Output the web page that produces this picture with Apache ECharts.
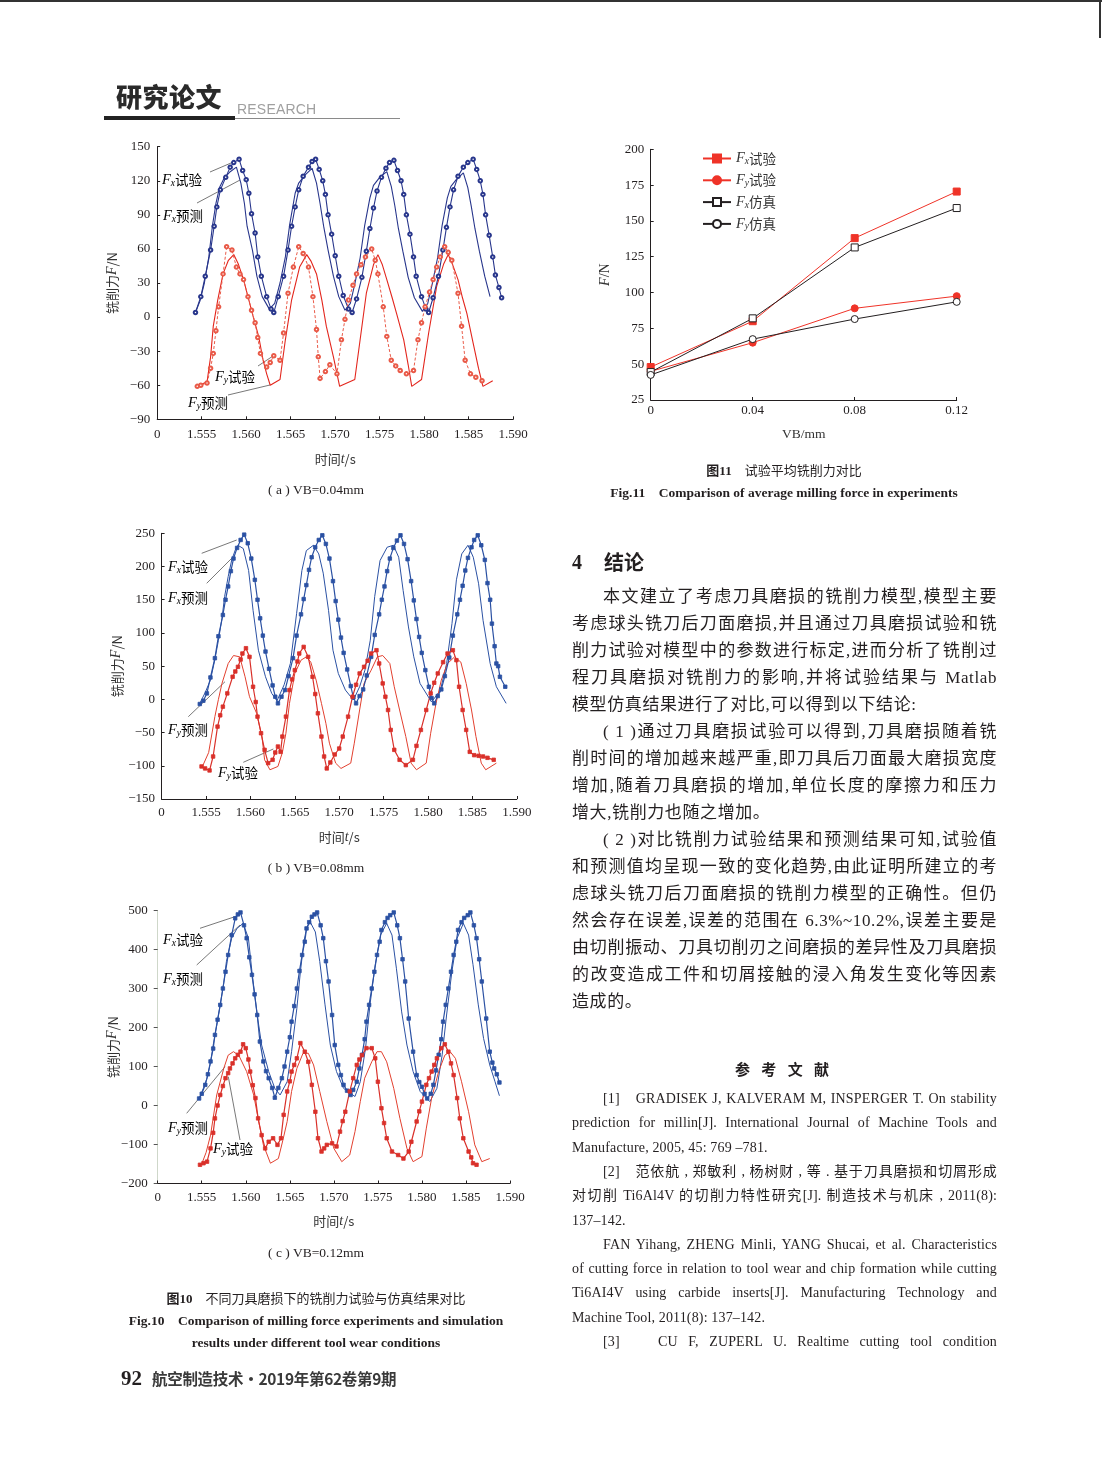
<!DOCTYPE html>
<html><head><meta charset="utf-8">
<script src="https://cdn.jsdelivr.net/npm/echarts@6/dist/echarts.min.js"></script>
<style>
html,body{margin:0;padding:0;background:#fff;}
#page{position:relative;width:1102px;height:1484px;overflow:hidden;background:#fff;font-family:"Liberation Serif","Noto Sans CJK SC",serif;color:#231f20;}
#chart{position:absolute;left:0;top:0;width:1102px;height:1484px;}
.t{position:absolute;white-space:nowrap;}
.ln{position:absolute;white-space:nowrap;}
.j{text-align:justify;text-align-last:justify;}
.c{text-align:center;}
</style>
</head><body>
<div id="page">
<div id="chart"></div>
</div>
<script>
// ---------- Fig.10 (a) VB=0.04mm : [time s, force N] ----------
const aFxExp=[[1.5543,4],[1.5549,18],[1.5554,36],[1.5560,59],[1.5564,80],[1.5567,97],[1.5571,112],[1.5577,123],[1.5582,132],[1.5586,136],[1.5592,139],
[1.5596,129],[1.5600,121],[1.5603,109],[1.5606,91],[1.5610,74],[1.5613,53],[1.5617,36],[1.5623,18],[1.5628,7],[1.5631,4],
[1.5636,18],[1.5642,36],[1.5647,59],[1.5651,80],[1.5655,97],[1.5659,112],[1.5664,124],[1.5670,132],[1.5674,137],[1.5678,139],
[1.5682,130],[1.5686,120],[1.5689,108],[1.5692,90],[1.5696,73],[1.5700,54],[1.5704,36],[1.5709,19],[1.5715,7],[1.5719,4],
[1.5724,16],[1.5730,35],[1.5735,58],[1.5739,78],[1.5743,96],[1.5747,111],[1.5752,123],[1.5757,131],[1.5761,136],[1.5766,138],
[1.5770,129],[1.5774,120],[1.5777,108],[1.5780,90],[1.5784,73],[1.5788,53],[1.5791,36],[1.5797,18],[1.5802,7],[1.5805,4],
[1.5810,17],[1.5816,36],[1.5821,59],[1.5825,79],[1.5829,97],[1.5833,112],[1.5838,124],[1.5844,132],[1.5849,136],[1.5855,139],
[1.5859,130],[1.5863,120],[1.5866,108],[1.5869,90],[1.5873,72],[1.5877,53],[1.5880,37],[1.5884,26],[1.5887,17]];
const aFxPre=[[1.5543,4],[1.5548,14],[1.5553,30],[1.5558,53],[1.5562,80],[1.5566,100],[1.5570,114],[1.5575,122],[1.5582,128],[1.5589,132],
[1.5594,118],[1.5598,100],[1.5601,80],[1.5607,59],[1.5612,36],[1.5618,18],[1.5626,7],
[1.5632,12],[1.5638,30],[1.5644,53],[1.5649,82],[1.5655,109],[1.5659,118],[1.5666,125],[1.5674,131],
[1.5679,118],[1.5683,100],[1.5687,80],[1.5692,59],[1.5698,36],[1.5704,18],[1.5711,6],
[1.5717,12],[1.5722,29],[1.5728,52],[1.5733,80],[1.5739,105],[1.5743,116],[1.5750,123],[1.5758,128],
[1.5763,115],[1.5767,98],[1.5771,78],[1.5776,58],[1.5782,35],[1.5789,17],[1.5798,5],
[1.5804,12],[1.5809,29],[1.5815,52],[1.5820,80],[1.5826,105],[1.5830,115],[1.5836,121],[1.5844,127],
[1.5849,114],[1.5853,97],[1.5857,78],[1.5862,58],[1.5868,36],[1.5874,18]];
const aFyExp=[[1.5545,-61],[1.5549,-60],[1.5556,-58],[1.5560,-45],[1.5563,-32],[1.5566,-12],[1.5569,9],[1.5574,38],[1.5578,62],[1.5584,59],[1.5589,44],[1.5593,38],[1.5597,33],[1.5602,18],[1.5606,6],[1.5610,-5],[1.5613,-18],[1.5616,-32],[1.5623,-44],[1.5627,-40],[1.5631,-34],[1.5638,-38],
[1.5642,-14],[1.5647,21],[1.5653,44],[1.5659,62],[1.5664,56],[1.5670,44],[1.5675,18],[1.5679,-11],[1.5681,-35],[1.5683,-54],[1.5689,-48],[1.5694,-42],[1.5702,-50],
[1.5707,-20],[1.5711,-2],[1.5715,15],[1.5720,28],[1.5724,38],[1.5729,46],[1.5734,53],[1.5741,60],[1.5745,50],[1.5748,38],[1.5754,9],[1.5758,-17],[1.5763,-38],[1.5768,-43],[1.5773,-47],[1.5780,-50],[1.5788,-47],
[1.5793,-20],[1.5797,-5],[1.5801,9],[1.5806,22],[1.5810,33],[1.5814,44],[1.5818,53],[1.5823,62],[1.5827,57],[1.5831,50],[1.5838,21],[1.5842,-8],[1.5846,-38],[1.5852,-50],[1.5858,-53],[1.5865,-56]];
const aFyPre=[[1.5545,-61],[1.5556,-57],[1.5560,-35],[1.5563,-8],[1.5568,15],[1.5574,38],[1.5580,50],[1.5586,55],[1.5591,47],[1.5597,33],[1.5603,15],[1.5608,0],[1.5614,-17],[1.5619,-38],[1.5623,-50],[1.5627,-60],
[1.5638,-55],[1.5644,-20],[1.5651,15],[1.5660,44],[1.5668,55],[1.5673,49],[1.5679,38],[1.5685,15],[1.5690,-8],[1.5698,-35],[1.5705,-61],
[1.5722,-55],[1.5728,-20],[1.5735,21],[1.5743,46],[1.5748,55],[1.5753,46],[1.5758,33],[1.5764,17],[1.5769,3],[1.5777,-20],[1.5782,-42],[1.5786,-61],
[1.5797,-55],[1.5805,-14],[1.5814,27],[1.5822,47],[1.5827,55],[1.5832,46],[1.5838,33],[1.5843,17],[1.5848,3],[1.5855,-23],[1.5861,-45],[1.5866,-61],[1.5877,-56]];

// ---------- Fig.10 (b) VB=0.08mm ----------
const bFxExp=[[1.5543,-7],[1.5547,-2],[1.5551,9],[1.5555,33],[1.5560,62],[1.5564,95],[1.5569,127],[1.5572,150],[1.5575,170],[1.5578,193],[1.5581,212],[1.5585,228],[1.5589,240],[1.5593,248],
[1.5597,235],[1.5601,212],[1.5605,180],[1.5608,150],[1.5611,122],[1.5614,96],[1.5617,72],[1.5621,46],[1.5625,21],[1.5628,4],[1.5631,-6],
[1.5635,4],[1.5639,14],[1.5643,35],[1.5648,62],[1.5652,96],[1.5657,128],[1.5660,151],[1.5663,172],[1.5666,195],[1.5669,214],[1.5673,229],[1.5677,240],[1.5681,247],
[1.5685,234],[1.5689,212],[1.5693,178],[1.5696,148],[1.5699,120],[1.5702,93],[1.5705,70],[1.5709,45],[1.5713,20],[1.5716,3],[1.5719,-6],
[1.5723,5],[1.5727,15],[1.5731,36],[1.5736,64],[1.5740,97],[1.5745,128],[1.5748,150],[1.5751,170],[1.5754,193],[1.5757,212],[1.5761,228],[1.5765,239],[1.5769,247],
[1.5773,234],[1.5777,211],[1.5781,178],[1.5784,149],[1.5787,121],[1.5790,94],[1.5793,70],[1.5797,44],[1.5801,19],[1.5804,2],[1.5807,-6],
[1.5811,5],[1.5815,15],[1.5819,35],[1.5824,63],[1.5828,96],[1.5833,128],[1.5836,150],[1.5839,171],[1.5842,194],[1.5845,213],[1.5849,229],[1.5852,240],[1.5856,247],
[1.5860,232],[1.5864,210],[1.5867,175],[1.5870,150],[1.5872,114],[1.5875,80],[1.5877,54],[1.5879,50],[1.5881,34],[1.5887,19]];
const bFxPre=[[1.5543,-6],[1.5549,10],[1.5555,29],[1.5560,60],[1.5564,89],[1.5568,122],[1.5571,155],[1.5575,185],[1.5579,210],[1.5583,225],[1.5586,232],[1.5592,227],[1.5598,194],[1.5603,134],[1.5609,74],[1.5617,34],[1.5624,9],[1.5630,-2],
[1.5638,22],[1.5645,54],[1.5652,129],[1.5658,194],[1.5663,224],[1.5671,232],[1.5677,219],[1.5682,190],[1.5688,134],[1.5693,74],[1.5699,39],[1.5707,14],[1.5716,-1],
[1.5723,19],[1.5729,44],[1.5735,89],[1.5740,155],[1.5746,209],[1.5754,229],[1.5761,232],[1.5767,214],[1.5772,164],[1.5778,109],[1.5784,64],[1.5791,24],[1.5804,-4],
[1.5814,14],[1.5821,54],[1.5827,114],[1.5832,180],[1.5838,219],[1.5845,232],[1.5851,214],[1.5857,174],[1.5862,119],[1.5870,54],[1.5877,19],[1.5888,-6]];
const bFyExp=[[1.5545,-101],[1.5549,-104],[1.5554,-107],[1.5558,-86],[1.5563,-41],[1.5566,-24],[1.5569,-11],[1.5574,9],[1.5580,34],[1.5583,42],[1.5586,49],[1.5589,60],[1.5591,69],[1.5595,77],[1.5599,64],[1.5603,19],[1.5606,-4],[1.5608,-26],[1.5612,-51],[1.5616,-76],[1.5620,-96],[1.5625,-91],[1.5628,-80],[1.5631,-71],[1.5634,-79],
[1.5636,-56],[1.5640,-26],[1.5644,14],[1.5647,30],[1.5650,44],[1.5653,57],[1.5655,69],[1.5660,79],[1.5665,64],[1.5670,34],[1.5673,8],[1.5676,-21],[1.5680,-56],[1.5683,-86],[1.5686,-104],[1.5690,-95],[1.5695,-83],[1.5700,-74],
[1.5704,-56],[1.5710,-26],[1.5715,4],[1.5719,22],[1.5723,39],[1.5728,49],[1.5732,58],[1.5736,69],[1.5742,74],[1.5745,54],[1.5749,24],[1.5752,4],[1.5755,-16],[1.5758,-46],[1.5762,-76],[1.5768,-91],[1.5775,-99],[1.5783,-91],[1.5787,-70],
[1.5792,-46],[1.5798,-16],[1.5803,9],[1.5807,25],[1.5811,39],[1.5817,56],[1.5822,69],[1.5828,74],[1.5832,59],[1.5835,19],[1.5839,-16],[1.5843,-46],[1.5847,-79],[1.5852,-84],[1.5857,-85],[1.5862,-86],[1.5867,-88],[1.5874,-91]];
const bFyPre=[[1.5546,-101],[1.5553,-80],[1.5560,-26],[1.5564,0],[1.5568,24],[1.5575,54],[1.5581,66],[1.5588,64],[1.5594,34],[1.5599,4],[1.5607,-21],[1.5613,-56],[1.5616,-91],[1.5622,-106],[1.5631,-101],
[1.5636,-80],[1.5640,-51],[1.5644,-6],[1.5650,39],[1.5657,59],[1.5663,64],[1.5668,56],[1.5674,29],[1.5680,-6],[1.5685,-36],[1.5689,-66],[1.5696,-96],[1.5702,-104],[1.5713,-96],
[1.5717,-66],[1.5723,-16],[1.5728,24],[1.5736,44],[1.5743,64],[1.5749,66],[1.5757,54],[1.5762,19],[1.5768,-16],[1.5775,-56],[1.5781,-96],[1.5787,-106],[1.5798,-96],
[1.5803,-51],[1.5809,-6],[1.5815,29],[1.5822,54],[1.5830,64],[1.5837,56],[1.5843,24],[1.5849,-16],[1.5854,-56],[1.5860,-96],[1.5865,-106],[1.5877,-96]];

// ---------- Fig.10 (c) VB=0.12mm ----------
const cFxExp=[[1.5547,18],[1.5550,30],[1.5554,53],[1.5557,80],[1.5560,113],[1.5563,146],[1.5565,181],[1.5568,220],[1.5571,258],[1.5574,300],[1.5577,343],[1.5580,386],[1.5584,437],[1.5588,480],[1.5591,490],[1.5594,495],
[1.5598,462],[1.5601,429],[1.5604,380],[1.5607,335],[1.5610,285],[1.5613,232],[1.5616,164],[1.5620,113],[1.5623,88],[1.5626,70],[1.5630,45],[1.5633,20],
[1.5637,45],[1.5641,70],[1.5644,100],[1.5647,138],[1.5650,175],[1.5652,215],[1.5655,255],[1.5658,300],[1.5661,345],[1.5664,386],[1.5667,420],[1.5669,454],[1.5672,470],[1.5675,484],[1.5678,490],[1.5681,495],
[1.5685,462],[1.5688,429],[1.5691,370],[1.5694,318],[1.5698,232],[1.5701,155],[1.5705,104],[1.5708,78],[1.5711,53],[1.5715,38],[1.5719,27],
[1.5722,40],[1.5726,61],[1.5729,95],[1.5732,130],[1.5735,170],[1.5737,215],[1.5740,258],[1.5743,300],[1.5746,343],[1.5749,386],[1.5752,420],[1.5754,450],[1.5758,470],[1.5761,481],[1.5764,488],[1.5768,495],
[1.5772,462],[1.5775,429],[1.5778,375],[1.5781,318],[1.5785,223],[1.5790,138],[1.5794,78],[1.5797,60],[1.5800,48],[1.5803,30],[1.5806,18],
[1.5810,30],[1.5813,53],[1.5816,90],[1.5819,130],[1.5822,170],[1.5824,215],[1.5827,258],[1.5830,300],[1.5833,343],[1.5836,386],[1.5839,420],[1.5841,450],[1.5845,470],[1.5848,481],[1.5852,488],[1.5855,495],
[1.5859,462],[1.5862,429],[1.5865,375],[1.5868,318],[1.5873,223],[1.5877,138],[1.5880,110],[1.5882,95],[1.5885,80],[1.5888,59]];
const cFxPre=[[1.5547,18],[1.5552,45],[1.5556,70],[1.5560,110],[1.5563,155],[1.5567,205],[1.5571,258],[1.5575,315],[1.5578,369],[1.5584,429],[1.5590,454],[1.5597,467],[1.5603,429],[1.5607,343],[1.5613,232],[1.5618,155],[1.5626,87],[1.5633,44],[1.5639,27],
[1.5647,61],[1.5652,138],[1.5658,249],[1.5662,343],[1.5666,420],[1.5669,454],[1.5673,471],[1.5679,445],[1.5684,369],[1.5690,258],[1.5696,155],[1.5703,87],[1.5711,44],[1.5724,23],
[1.5730,61],[1.5736,147],[1.5741,258],[1.5747,361],[1.5753,437],[1.5760,467],[1.5766,437],[1.5771,352],[1.5777,240],[1.5783,155],[1.5790,87],[1.5798,36],[1.5809,10],
[1.5817,44],[1.5823,130],[1.5828,232],[1.5834,343],[1.5840,429],[1.5847,467],[1.5853,437],[1.5858,361],[1.5864,258],[1.5870,172],[1.5877,104],[1.5883,61],[1.5888,25]];
const cFyExp=[[1.5548,-152],[1.5552,-148],[1.5556,-144],[1.5560,-110],[1.5563,-70],[1.5565,-33],[1.5568,0],[1.5571,27],[1.5574,50],[1.5577,70],[1.5580,83],[1.5582,95],[1.5585,108],[1.5588,121],[1.5591,130],[1.5594,138],[1.5597,157],
[1.5600,147],[1.5603,118],[1.5605,87],[1.5608,52],[1.5611,19],[1.5614,-33],[1.5618,-76],[1.5622,-110],[1.5626,-93],[1.5631,-84],[1.5636,-101],[1.5640,-84],
[1.5643,-24],[1.5647,36],[1.5650,62],[1.5652,87],[1.5655,104],[1.5658,121],[1.5662,160],[1.5667,138],[1.5671,112],[1.5675,53],[1.5679,-16],[1.5682,-84],[1.5686,-118],[1.5689,-110],[1.5692,-101],[1.5698,-97],[1.5703,-105],
[1.5707,-67],[1.5710,-40],[1.5713,-16],[1.5718,36],[1.5722,70],[1.5726,104],[1.5729,118],[1.5732,129],[1.5737,147],[1.5743,147],[1.5747,121],[1.5750,61],[1.5754,-7],[1.5757,-45],[1.5760,-84],[1.5766,-118],[1.5773,-127],[1.5779,-136],[1.5785,-118],[1.5788,-93],
[1.5794,-41],[1.5797,-15],[1.5800,10],[1.5805,53],[1.5808,70],[1.5811,87],[1.5814,104],[1.5817,121],[1.5822,147],[1.5826,157],[1.5830,138],[1.5833,108],[1.5836,78],[1.5840,19],[1.5843,-33],[1.5847,-84],[1.5853,-118],[1.5856,-133],[1.5858,-148],[1.5862,-152]];
const cFyPre=[[1.5550,-150],[1.5555,-120],[1.5560,-76],[1.5567,27],[1.5575,95],[1.5580,129],[1.5586,138],[1.5592,129],[1.5601,87],[1.5609,27],[1.5614,-33],[1.5620,-101],[1.5628,-148],
[1.5637,-136],[1.5642,-90],[1.5647,-41],[1.5652,36],[1.5658,95],[1.5665,134],[1.5671,134],[1.5677,104],[1.5684,36],[1.5692,-41],[1.5700,-110],[1.5709,-144],
[1.5718,-127],[1.5724,-67],[1.5730,10],[1.5735,70],[1.5743,112],[1.5749,138],[1.5754,138],[1.5760,112],[1.5768,44],[1.5775,-33],[1.5783,-110],[1.5790,-144],
[1.5800,-131],[1.5805,-58],[1.5811,19],[1.5819,87],[1.5826,129],[1.5832,138],[1.5838,121],[1.5845,61],[1.5853,-16],[1.5860,-101],[1.5868,-144],[1.5877,-136]];

// ---------- Fig.11 average milling force ----------
const fig11VB=[0,0.04,0.08,0.12];
const fig11FxExp=[48,80,138,170.5];
const fig11FyExp=[45,65,89,97.5];
const fig11FxSim=[44.5,82,131.5,159];
const fig11FySim=[42.5,67.5,81.5,93.5];

// ---------- page text ----------
const bodyLines=[
['本文建立了考虑刀具磨损的铣削力模型,模型主要',1,1],
['考虑球头铣刀后刀面磨损,并且通过刀具磨损试验和铣',0,1],
['削力试验对模型中的参数进行标定,进而分析了铣削过',0,1],
['程刀具磨损对铣削力的影响,并将试验结果与 Matlab',0,1],
['模型仿真结果进行了对比,可以得到以下结论:',0,0],
['( 1 )通过刀具磨损试验可以得到,刀具磨损随着铣',1,1],
['削时间的增加越来越严重,即刀具后刀面最大磨损宽度',0,1],
['增加,随着刀具磨损的增加,单位长度的摩擦力和压力',0,1],
['增大,铣削力也随之增加。',0,0],
['( 2 )对比铣削力试验结果和预测结果可知,试验值',1,1],
['和预测值均呈现一致的变化趋势,由此证明所建立的考',0,1],
['虑球头铣刀后刀面磨损的铣削力模型的正确性。但仍',0,1],
['然会存在误差,误差的范围在 6.3%~10.2%,误差主要是',0,1],
['由切削振动、刀具切削刃之间磨损的差异性及刀具磨损',0,1],
['的改变造成工件和切屑接触的浸入角发生变化等因素',0,1],
['造成的。',0,0]];
const refLines=[
['[1]\u3000GRADISEK J, KALVERAM M, INSPERGER T. On stability',1,1],
['prediction for millin[J]. International Journal of Machine Tools and',0,1],
['Manufacture, 2005, 45: 769 –781.',0,0],
['[2]\u3000范依航 , 郑敏利 , 杨树财 , 等 . 基于刀具磨损和切屑形成',1,1],
['对切削 Ti6Al4V 的切削力特性研究[J]. 制造技术与机床 , 2011(8):',0,1],
['137–142.',0,0],
['FAN Yihang, ZHENG Minli, YANG Shucai, et al. Characteristics',1,1],
['of cutting force in relation to tool wear and chip formation while cutting',0,1],
['Ti6AI4V using carbide inserts[J]. Manufacturing Technology and',0,1],
['Machine Tool, 2011(8): 137–142.',0,0],
['[3]\u3000 CU F, ZUPERL U. Realtime cutting tool condition',1,1]];

const page=document.getElementById('page');
function addDiv(html,css,cls){const d=document.createElement('div');d.className=cls||'t';d.innerHTML=html;d.style.cssText=css;page.appendChild(d);return d;}

// header
addDiv('','left:0;top:0;width:1102px;height:1.5px;background:#333;');
addDiv('','left:1099px;top:0;width:1.5px;height:38px;background:#333;');
addDiv('研究论文','left:116px;top:79px;font-family:"Noto Sans CJK SC";font-weight:900;font-size:26px;line-height:34px;letter-spacing:0.5px;color:#2a2a2a;');
addDiv('RESEARCH','left:237px;top:101px;font-family:"Liberation Sans";font-size:14px;line-height:16px;color:#a0a0a0;letter-spacing:0.2px;');
addDiv('','left:104px;top:116px;width:131px;height:4px;background:#222;');
addDiv('','left:235px;top:117.5px;width:165px;height:1px;background:#8a8a8a;');

// sub-figure captions
const capCss='width:420px;left:106px;font-size:13.5px;line-height:18px;';
addDiv('( a ) VB=0.04mm','top:481px;'+capCss,'t c');
addDiv('( b ) VB=0.08mm','top:859px;'+capCss,'t c');
addDiv('( c ) VB=0.12mm','top:1244px;'+capCss,'t c');
addDiv('<b>图10</b>\u3000不同刀具磨损下的铣削力试验与仿真结果对比','top:1290px;'+capCss+'font-size:13px;','t c');
addDiv('<b>Fig.10\u3000Comparison of milling force experiments and simulation</b>','top:1312px;'+capCss,'t c');
addDiv('<b>results under different tool wear conditions</b>','top:1334px;'+capCss,'t c');
addDiv('<b>图11</b>\u3000试验平均铣削力对比','top:462px;left:574px;width:420px;font-size:13px;line-height:18px;','t c');
addDiv('<b>Fig.11\u3000Comparison of average milling force in experiments</b>','top:484px;left:574px;width:420px;font-size:13.5px;line-height:18px;','t c');

// footer
addDiv('<b>92</b>','left:121px;top:1366px;font-size:21px;line-height:24px;');
addDiv('航空制造技术・2019年第62卷第9期','left:152px;top:1368px;font-family:"Noto Sans CJK SC";font-weight:700;font-size:15.5px;line-height:20px;color:#3a3a3a;letter-spacing:-0.3px;');

// section heading
addDiv('<b>4</b>','left:572px;top:550px;font-size:20px;line-height:24px;');
addDiv('结论','left:604px;top:549px;font-family:"Noto Sans CJK SC";font-weight:700;font-size:20px;line-height:26px;');

bodyLines.forEach((l,i)=>{
  const ind=l[1]?31:0;
  addDiv(l[0],'left:'+(572+ind)+'px;width:'+(425-ind)+'px;top:'+(583+i*27)+'px;height:27px;font-size:17px;line-height:27px;letter-spacing:0.6px;','ln'+(l[2]?' j':''));
});
addDiv('<b>参 考 文 献</b>','left:574px;width:420px;top:1058px;font-family:"Noto Sans CJK SC";font-size:15px;line-height:22px;letter-spacing:4px;','t c');
refLines.forEach((l,i)=>{
  const ind=l[1]?31:0;
  addDiv(l[0],'left:'+(572+ind)+'px;width:'+(425-ind)+'px;top:'+(1087+i*24.3)+'px;height:24px;font-size:14px;line-height:24px;letter-spacing:0.15px;','ln'+(l[2]?' j':''));
});

// ---------- chart ----------
const chart=echarts.init(document.getElementById('chart'));
const INK='#231f20';
const serif='Liberation Serif';
const richName={t:{fontFamily:'Noto Sans CJK SC',fontSize:13,color:'#333',lineHeight:16},i:{fontFamily:serif,fontStyle:'italic',fontSize:14,color:'#333',lineHeight:16}};
const richLab={i:{fontFamily:serif,fontStyle:'italic',fontSize:14.5,color:'#333',lineHeight:17},s:{fontFamily:serif,fontStyle:'italic',fontSize:9.5,color:'#333',lineHeight:9,verticalAlign:'bottom'},t:{fontFamily:'Noto Sans CJK SC',fontSize:13.5,color:'#333',lineHeight:17}};
function tFmt(v){return Math.abs(v-1.55)<1e-7?'0':v.toFixed(3);}
function yFmt(v){return v<0?'\u2212'+(-v):String(v);}

const grids=[
 {left:157.2,top:146.7,width:356,height:272.6},
 {left:161.6,top:533.3,width:355.2,height:265.7},
 {left:157.7,top:910.5,width:352.3,height:273},
 {left:650.7,top:149.3,width:306,height:250.7}
];
function timeX(gi,labelMargin,nameGap){
  return {type:'value',gridIndex:gi,min:1.55,max:1.59,interval:0.005,
    axisLine:{onZero:false,lineStyle:{color:INK,width:1}},axisTick:{inside:true,length:3,lineStyle:{color:INK}},
    axisLabel:{formatter:tFmt,color:INK,fontFamily:serif,fontSize:13,margin:labelMargin},splitLine:{show:false},
    name:'{t|时间}{i|t}{t|/s}',nameLocation:'middle',nameGap:nameGap,nameMoveOverlap:false,nameTextStyle:{rich:richName,fontSize:13}};
}
function forceY(gi,min,max,step,margin,faint){
  return {type:'value',gridIndex:gi,min:min,max:max,interval:step,
    axisLine:{show:true,onZero:false,lineStyle:faint?{color:'#c9d3c4',width:1,type:'dotted'}:{color:INK,width:1}},
    axisTick:{show:true,inside:!faint,length:faint?4:3,lineStyle:{color:faint?'#555':INK}},
    axisLabel:{formatter:yFmt,color:INK,fontFamily:serif,fontSize:13,margin:margin},splitLine:{show:false},
    name:'{t|铣削力}{i|F}{t|/N}',nameLocation:'middle',nameRotate:90,nameGap:37,nameMoveOverlap:false,nameTextStyle:{rich:richName,fontSize:13}};
}
const xAxes=[timeX(0,9,32),timeX(1,7,30),timeX(2,7.5,29.5),
 {type:'value',gridIndex:3,min:0,max:0.12,interval:0.04,
  axisLine:{onZero:false,lineStyle:{color:INK}},axisTick:{inside:true,length:3,lineStyle:{color:INK}},
  axisLabel:{color:INK,fontFamily:serif,fontSize:13,margin:4,formatter:v=>v===0?'0':v.toFixed(2)},splitLine:{show:false},
  name:'VB/mm',nameLocation:'middle',nameGap:27,nameMoveOverlap:false,nameTextStyle:{fontFamily:serif,fontSize:13.5,color:'#333'}}];
const yAxes=[forceY(0,-90,150,30,7,false),forceY(1,-150,250,50,6.5,false),forceY(2,-200,500,100,10,true),
 {type:'value',gridIndex:3,min:25,max:200,interval:25,
  axisLine:{show:true,onZero:false,lineStyle:{color:INK}},axisTick:{show:true,inside:true,length:3,lineStyle:{color:INK}},
  axisLabel:{color:INK,fontFamily:serif,fontSize:13,margin:6.5},splitLine:{show:false},
  name:'{i|F}{t|/N}',nameLocation:'middle',nameRotate:90,nameGap:38,nameMoveOverlap:false,
  nameTextStyle:{fontSize:13.5,rich:{i:{fontFamily:serif,fontStyle:'italic',fontSize:14,color:'#333'},t:{fontFamily:serif,fontSize:14,color:'#333'}}}}];

function ts(name,data,gi,color,opt){
  opt=opt||{};
  return {name:name,type:'line',xAxisIndex:gi,yAxisIndex:gi,data:data,
    symbol:opt.symbol||'none',symbolSize:opt.size||4,showSymbol:!!opt.symbol,showAllSymbol:true,
    lineStyle:{color:color,width:opt.w||1,type:opt.dash||'solid'},
    itemStyle:{color:color,borderColor:color,borderWidth:0.8},
    emphasis:{disabled:true},z:opt.z||2};
}
const navyA='#28368c', blueB='#2b51a3', redA='#e3261d', redAexp='#e95a48', redB='#d9302a', redBpre='#e2402f';
const series=[
 ts('aFxPre',aFxPre,0,navyA,{w:1.1}),
 ts('aFxExp',aFxExp,0,navyA,{symbol:'emptyCircle',size:3.5,w:1.1,z:3}),
 ts('aFyPre',aFyPre,0,redA,{w:1.1}),
 ts('aFyExp',aFyExp,0,redAexp,{symbol:'emptyCircle',size:3.5,w:1,dash:[3,2],z:3}),
 ts('bFxPre',bFxPre,1,blueB,{w:1}),
 ts('bFxExp',bFxExp,1,blueB,{symbol:'rect',size:3.5,w:1.2,z:3}),
 ts('bFyPre',bFyPre,1,redBpre,{w:1}),
 ts('bFyExp',bFyExp,1,redB,{symbol:'rect',size:3.5,w:1.2,z:3}),
 ts('cFxPre',cFxPre,2,blueB,{w:1}),
 ts('cFxExp',cFxExp,2,blueB,{symbol:'rect',size:3.5,w:1.2,z:3}),
 ts('cFyPre',cFyPre,2,redBpre,{w:1}),
 ts('cFyExp',cFyExp,2,redB,{symbol:'rect',size:3.5,w:1.2,z:3})
];
function f11(name,vals,color,symbol,fill){
  return {name:name,type:'line',xAxisIndex:3,yAxisIndex:3,data:fig11VB.map((v,i)=>[v,vals[i]]),
    symbol:symbol,symbolSize:7,showSymbol:true,lineStyle:{color:color,width:1},
    itemStyle:{color:fill,borderColor:color,borderWidth:1},emphasis:{disabled:true},z:4};
}
const red11='#ef3328', blk11='#231f20';
series.push(f11('Fx试验',fig11FxExp,red11,'rect',red11));
series.push(f11('Fy试验',fig11FyExp,red11,'circle',red11));
series.push(f11('Fx仿真',fig11FxSim,blk11,'rect','#ffffff'));
series.push(f11('Fy仿真',fig11FySim,blk11,'circle','#ffffff'));

// in-plot annotations (pixel positions on the page)
const annots=[
 ['x','试验',162,180],['x','预测',163,216],['y','试验',215,377],['y','预测',188,403],
 ['x','试验',168,567],['x','预测',168,598],['y','预测',168,730],['y','试验',218,773],
 ['x','试验',163,940],['x','预测',163,979],['y','预测',168,1128],['y','试验',213,1149]];
const leaders=[
 [210,172,231,163],[197,203,240,180],[258,366,273,356],[228,395,270,385],
 [201.7,553.3,236.7,540],[206.7,583.3,233.3,556.7],[188.3,716.7,225,681.7],[243.3,762.3,273.3,749],
 [200,928.3,240,915],[196.7,965,240,925],[186.7,1113.3,225,1066.7],[240,1140,228.3,1076.7]];
const graphic=[];
annots.forEach(a=>graphic.push({type:'text',silent:true,style:{x:a[2],y:a[3],text:'{i|F}{s|'+a[0]+'}{t|'+a[1]+'}',rich:richLab,fontSize:13.5,verticalAlign:'middle',align:'left'}}));
leaders.forEach(l=>graphic.push({type:'line',silent:true,shape:{x1:l[0],y1:l[1],x2:l[2],y2:l[3]},style:{stroke:'#555',lineWidth:0.8}}));

chart.setOption({
  animation:false,
  grid:grids,xAxis:xAxes,yAxis:yAxes,series:series,graphic:graphic,
  legend:{data:['Fx试验','Fy试验','Fx仿真','Fy仿真'],left:697,top:146,orient:'vertical',itemWidth:28,itemHeight:10,itemGap:6.3,
    selectedMode:false,
    formatter:n=>'{i|F}{s|'+n.charAt(1)+'}{t|'+n.slice(2)+'}',
    textStyle:{fontSize:13.5,rich:{i:{fontFamily:serif,fontStyle:'italic',fontSize:14.5,color:'#333',lineHeight:16},s:{fontFamily:serif,fontStyle:'italic',fontSize:9.5,color:'#333',lineHeight:8,verticalAlign:'bottom'},t:{fontFamily:'Noto Sans CJK SC',fontSize:13.5,color:'#333',lineHeight:16}}}}
});
</script>
</body></html>
